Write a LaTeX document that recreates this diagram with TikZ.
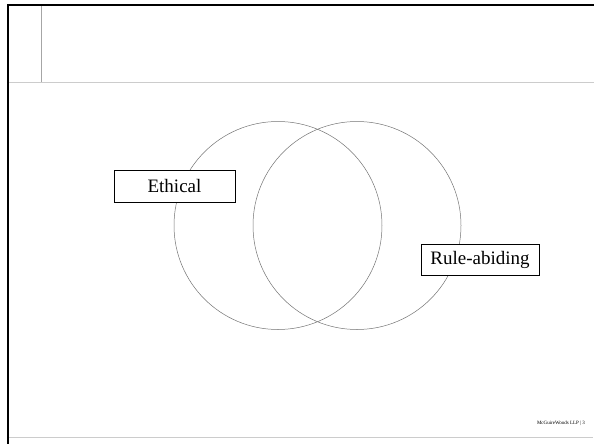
\documentclass[tikz,border=0pt]{standalone}
\usepackage{fontspec}
\setmainfont{Liberation Serif}
\usetikzlibrary{positioning}

\tikzset{
  setcircle/.style={circle, draw=black!55, line width=0.5pt, minimum size=208pt, inner sep=0pt},
  labelbox/.style={draw=black, fill=white, line width=0.9pt, font=\fontsize{19}{21}\selectfont, inner sep=0pt, anchor=center}
}

\begin{document}
\begin{tikzpicture}[x=1pt,y=-1pt]
\useasboundingbox (0,0) rectangle (594,444);
\coordinate (TL) at (8,5);
        \coordinate (TR) at (594,5);
        \coordinate (BL) at (8,444);

% frame of the slide
\draw[black!20, line width=1pt] (9,82) -- (594,82)
        (9,437.5) -- (593,437.5);
\draw[black!35, line width=0.8pt] (41,6) -- (41,82);
\draw[black, line width=2.2pt] (7,5) -- (TR);
\draw[black, line width=2.6pt] (TL) -- (BL);

% the two sets
\node[setcircle] (ethicalset) at (278,225.5) {};
\node[setcircle] (ruleset) at (357,225.5) {};

\node[labelbox, minimum width=121pt, minimum height=32pt] (ethical) at (174.5,186) {Ethical};
\node[labelbox, minimum width=118pt, minimum height=31pt] (ruleabiding) at (480,259.5) {Rule-abiding};

\node[font=\fontsize{5}{6}\selectfont, inner sep=0pt] (footer) at (561,423) {McGuireWoods LLP | 3};
\end{tikzpicture}
\end{document}
